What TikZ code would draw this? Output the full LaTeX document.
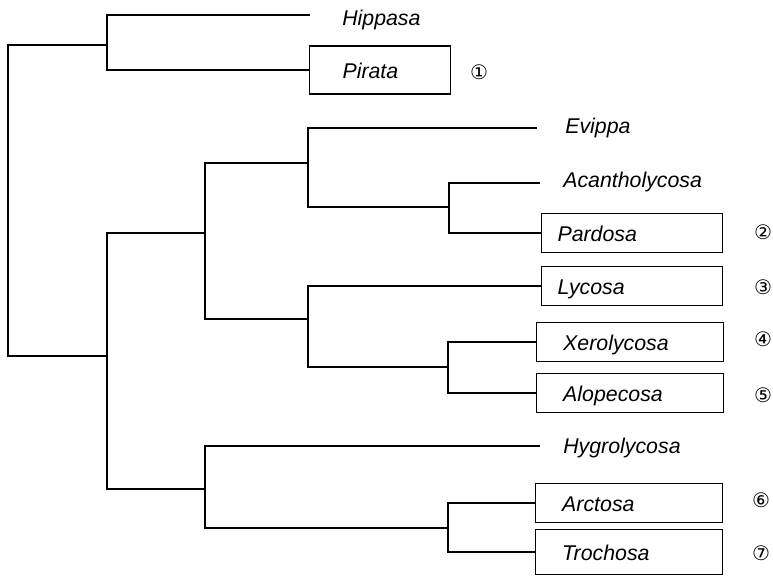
\documentclass[tikz,border=0pt]{standalone}
\usepackage{fontspec}
\setmainfont{Liberation Sans}
\newfontfamily\circfont{DejaVu Sans}
\begin{document}
\begin{tikzpicture}[x=0.75pt,y=-0.75pt,
    branch/.style={line width=0.9pt},
    taxon/.style={font=\fontsize{16}{19}\selectfont\itshape,anchor=base west,inner sep=0pt},
    taxbox/.style={draw,line width=0.8pt,anchor=west,align=left,
        font=\fontsize{16}{19}\selectfont\itshape,text height=12pt,text depth=0pt,
        inner ysep=0pt,minimum height=29pt,inner xsep=20pt,text width=100.25pt},
    circnum/.style={font=\circfont\fontsize{15}{17}\selectfont,inner sep=0pt}]
    \useasboundingbox (0,0) rectangle (773,576);

    % junctions of the tree
    \coordinate (nRoot) at (8,200);
    \coordinate (nA) at (107,45);
    \coordinate (nB) at (107,356);
    \coordinate (nC) at (205,233);
    \coordinate (nD) at (205,489);
    \coordinate (nE) at (308,163);
    \coordinate (nF) at (308,319);
    \coordinate (nG) at (449,207);
    \coordinate (nH) at (448,367);
    \coordinate (nI) at (448,528);

    % free ends of the plain leaves
    \coordinate (hipEnd) at (310,15);
    \coordinate (eviEnd) at (537,128);
    \coordinate (acaEnd) at (540,183);
    \coordinate (hygEnd) at (540,446);

    \node[taxon] (hippasa) at (342,25) {Hippasa};
    \node[taxon] (evippa) at (565,133) {Evippa};
    \node[taxon] (acantho) at (563,187) {Acantholycosa};
    \node[taxon] (hygro) at (563,453) {Hygrolycosa};

    \node[taxbox,minimum height=36pt,inner xsep=24.75pt,text width=56.25pt] (pirata) at (309,70) {Pirata};
    \node[taxbox,inner xsep=12pt,text width=111.75pt] (pardosa) at (541,233) {Pardosa};
    \node[taxbox,inner xsep=12pt,text width=111.75pt] (lycosa) at (541,286) {Lycosa};
    \node[taxbox] (xero) at (536,342) {Xerolycosa};
    \node[taxbox] (alope) at (536,393) {Alopecosa};
    \node[taxbox] (arctosa) at (535,503) {Arctosa};
    \node[taxbox,minimum height=33.75pt] (trochosa) at (535,552) {Trochosa};

    \node[circnum] (c1) at (479,72) {①};
    \node[circnum] (c2) at (763,232) {②};
    \node[circnum] (c3) at (763,287) {③};
    \node[circnum] (c4) at (763,339) {④};
    \node[circnum] (c5) at (763,395) {⑤};
    \node[circnum] (c6) at (761,500) {⑥};
    \node[circnum] (c7) at (761,553) {⑦};

    \draw[branch] (nA) -| (nRoot) |- (nB);
    \draw[branch] (hipEnd) -| (nA) |- (pirata.west);
    \draw[branch] (nC) -| (nB) |- (nD);
    \draw[branch] (nE) -| (nC) |- (nF);
    \draw[branch] (eviEnd) -| (nE) |- (nG);
    \draw[branch] (acaEnd) -| (nG) |- (pardosa.west);
    \draw[branch] (lycosa.west) -| (nF) |- (nH);
    \draw[branch] (xero.west) -| (nH) |- (alope.west);
    \draw[branch] (hygEnd) -| (nD) |- (nI);
    \draw[branch] (arctosa.west) -| (nI) |- (trochosa.west);
\end{tikzpicture}
\end{document}
